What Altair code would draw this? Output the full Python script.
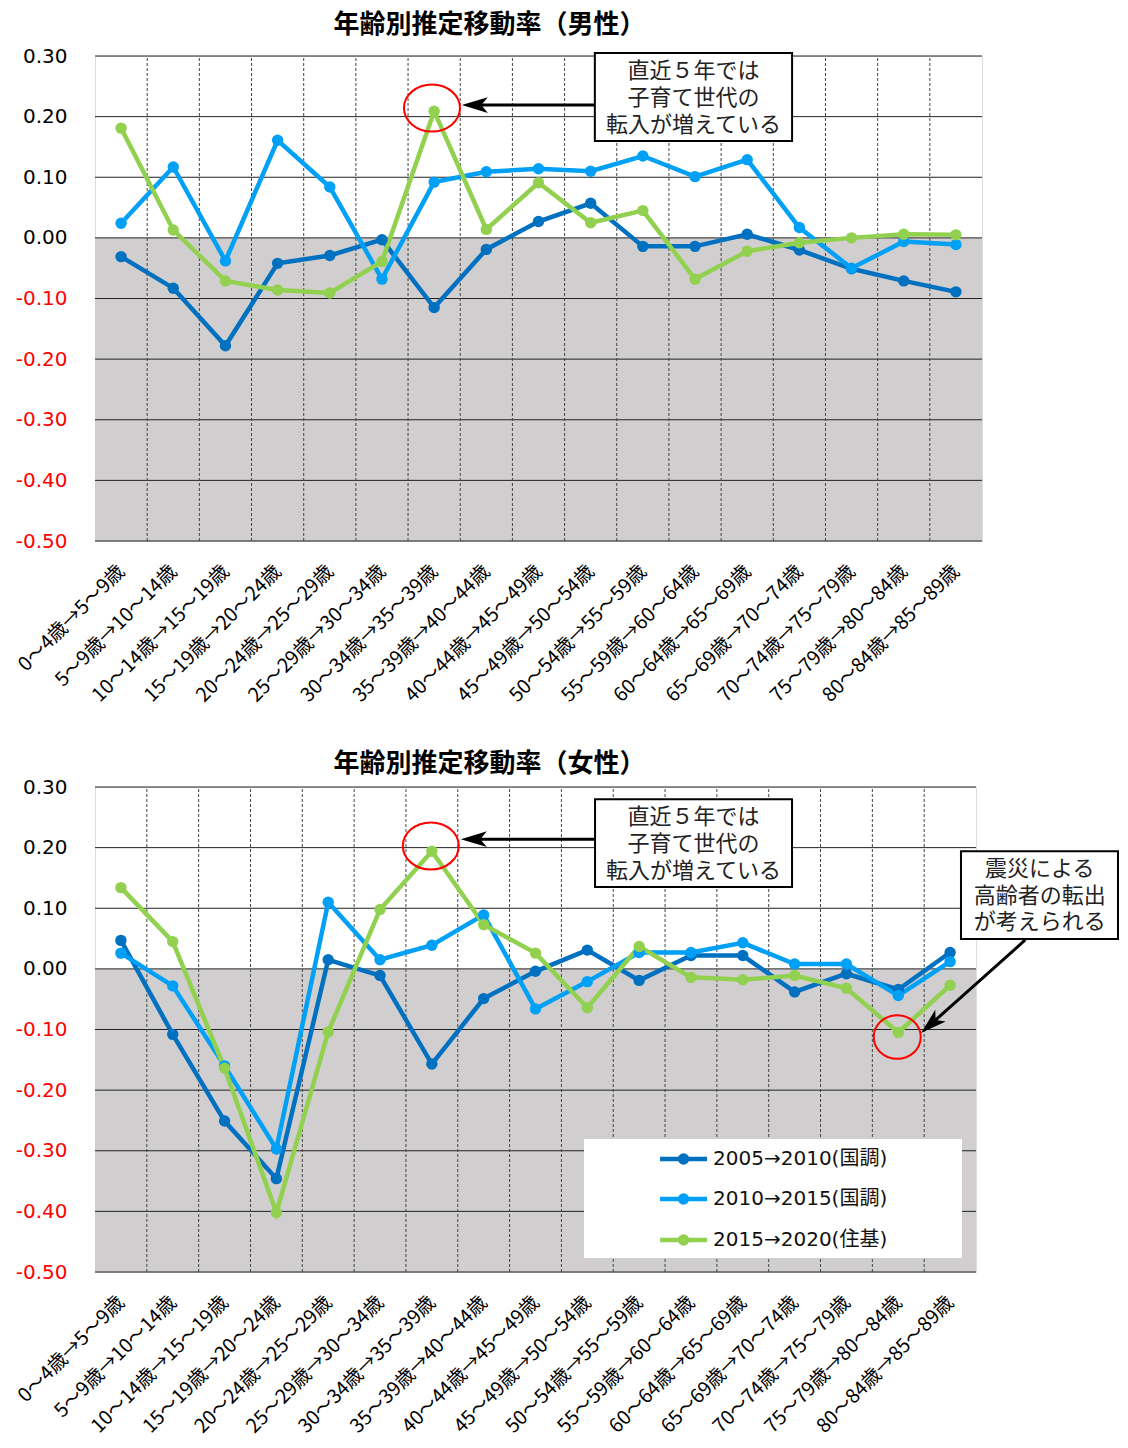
import altair as alt
import pandas as pd

# ---------------- data ----------------
categories = ["0～4歳→5～9歳", "5～9歳→10～14歳", "10～14歳→15～19歳", "15～19歳→20～24歳",
              "20～24歳→25～29歳", "25～29歳→30～34歳", "30～34歳→35～39歳", "35～39歳→40～44歳",
              "40～44歳→45～49歳", "45～49歳→50～54歳", "50～54歳→55～59歳", "55～59歳→60～64歳",
              "60～64歳→65～69歳", "65～69歳→70～74歳", "70～74歳→75～79歳", "75～79歳→80～84歳",
              "80～84歳→85～89歳"]
series_names = ["2005→2010(国調)", "2010→2015(国調)", "2015→2020(住基)"]
series_colors = ["#0070C0", "#00A0F6", "#92D050"]

male_2005_2010 = [-0.031, -0.083, -0.178, -0.042, -0.029, -0.003, -0.115, -0.019, 0.027,
                  0.057, -0.014, -0.014, 0.006, -0.020, -0.051, -0.071, -0.089]
male_2010_2015 = [0.024, 0.117, -0.038, 0.161, 0.084, -0.068, 0.092, 0.109, 0.114,
                  0.110, 0.135, 0.101, 0.129, 0.017, -0.050, -0.006, -0.011]
male_2015_2020 = [0.181, 0.013, -0.071, -0.086, -0.091, -0.039, 0.209, 0.014, 0.091,
                  0.025, 0.045, -0.068, -0.022, -0.008, 0.000, 0.006, 0.005]

female_2005_2010 = [0.047, -0.108, -0.251, -0.346, 0.015, -0.011, -0.157, -0.049, -0.004,
                    0.031, -0.019, 0.022, 0.022, -0.038, -0.008, -0.034, 0.027]
female_2010_2015 = [0.026, -0.028, -0.160, -0.297, 0.110, 0.015, 0.039, 0.089, -0.066,
                    -0.021, 0.027, 0.027, 0.043, 0.008, 0.008, -0.044, 0.012]
female_2015_2020 = [0.134, 0.045, -0.164, -0.402, -0.104, 0.098, 0.194, 0.073, 0.026,
                    -0.064, 0.037, -0.014, -0.018, -0.011, -0.032, -0.105, -0.027]

y_ticks = [-0.5, -0.4, -0.3, -0.2, -0.1, 0.0, 0.1, 0.2, 0.3]
x_dividers = [i + 0.5 for i in range(16)]

note_child = ["直近５年では", "子育て世代の", "転入が増えている"]
note_quake = ["震災による", "高齢者の転出", "が考えられる"]

# ---------------- styles / positions ----------------
LABEL_FONT = "Noto Sans CJK JP"
LEGEND_FONT = "DejaVu Sans, Noto Sans CJK JP"
CJK_FONT = "Noto Sans CJK JP"
GRAY = "#D0CECE"
ARROW_PATH = "M-1,0 L1,-0.6 L0.5,0 L1,0.6 Z"
ELLIPSE_TOP = "M1,0 A1,0.84 0 1,1 -1,0 A1,0.84 0 1,1 1,0 Z"
ELLIPSE_ROUND = "M1,0 A1,0.93 0 1,1 -1,0 A1,0.93 0 1,1 1,0 Z"

label_array = "[" + ",".join("'" + c + "'" for c in categories) + "]"

XDOM = [-0.5, 16.5]
YDOM = [-0.5, 0.3]

X_AXIS = alt.Axis(values=list(range(17)), labelExpr=label_array + "[datum.value]",
                  labelAngle=315, labelAlign="right", labelBaseline="middle",
                  labelFont=LABEL_FONT, labelFontSize=19.5, labelColor="#000",
                  labelPadding=27, ticks=False, domain=False, grid=False,
                  labelFlush=False, labelOverlap=False, title=None, labelLimit=400)
Y_AXIS = alt.Axis(values=y_ticks, grid=False, ticks=False, domain=False,
                  labelExpr="(datum.value < 0 ? '-' : '') + format(abs(datum.value), '.2f')",
                  labelPadding=28, labelFont="DejaVu Sans", labelFontSize=20,
                  labelColor={"condition": {"test": "datum.value < 0", "value": "#FF0000"},
                              "value": "#000000"},
                  labelFlush=False, labelOverlap=False, title=None)


def xq(field):
    return alt.X(field, type="quantitative",
                 scale=alt.Scale(domain=XDOM, nice=False, zero=False), axis=X_AXIS)


def yq(field):
    return alt.Y(field, type="quantitative",
                 scale=alt.Scale(domain=YDOM, nice=False, zero=False), axis=Y_AXIS)


def make_panel(title, s1, s2, s3, width, dx, title_offset, notes):
    rows = []
    for name, vals in zip(series_names, [s1, s2, s3]):
        for i, v in enumerate(vals):
            rows.append({"idx": i, "value": v, "series": name})
    df = pd.DataFrame(rows)

    color_scale = alt.Scale(domain=series_names, range=series_colors)

    bg = alt.Chart(pd.DataFrame({"x1": [XDOM[0]], "x2": [XDOM[1]], "y1": [0.0], "y2": [YDOM[0]]})).mark_rect(
        color=GRAY).encode(x=xq("x1"), x2="x2", y=yq("y1"), y2="y2")

    hgrid = alt.Chart(pd.DataFrame({"y": y_ticks, "x1": XDOM[0], "x2": XDOM[1]})).mark_rule(
        color="#222", strokeWidth=1).encode(y=yq("y"), x=xq("x1"), x2="x2")

    vgrid = alt.Chart(pd.DataFrame({"x": x_dividers, "y1": YDOM[0], "y2": YDOM[1]})).mark_rule(
        color="#444", strokeWidth=1, strokeDash=[3, 2]).encode(x=xq("x"), y=yq("y1"), y2="y2")

    layers = [bg, hgrid, vgrid]

    lines = alt.Chart(df).mark_line(strokeWidth=4.5).encode(
        x=xq("idx"), y=yq("value"),
        stroke=alt.Stroke("series:N", scale=color_scale, legend=None))
    points = alt.Chart(df).mark_circle(size=130, opacity=1).encode(
        x=xq("idx"), y=yq("value"),
        color=alt.Color("series:N", scale=color_scale, legend=None))
    layers += [lines, points]

    # legend (drawn as a small keyed table inside the plot)
    if "legend" in notes:
        lg = notes["legend"]
        layers.append(alt.Chart(pd.DataFrame({"x1": [lg["box"][0]], "x2": [lg["box"][1]],
                                              "y1": [lg["box"][2]], "y2": [lg["box"][3]]})).mark_rect(
            color="white").encode(x=xq("x1"), x2="x2", y=yq("y1"), y2="y2"))
        ldf = pd.DataFrame({"series": series_names, "y": lg["rows"],
                            "x1": lg["sym"][0], "x2": lg["sym"][1], "xc": lg["sym"][2],
                            "xt": lg["text_x"]})
        layers.append(alt.Chart(ldf).mark_rule(strokeWidth=4.5).encode(
            x=xq("x1"), x2="x2", y=yq("y"),
            stroke=alt.Stroke("series:N", scale=color_scale, legend=None)))
        layers.append(alt.Chart(ldf).mark_circle(size=130, opacity=1).encode(
            x=xq("xc"), y=yq("y"),
            color=alt.Color("series:N", scale=color_scale, legend=None)))
        layers.append(alt.Chart(ldf).mark_text(
            align="left", baseline="middle", font=LEGEND_FONT, fontSize=20, color="#111").encode(
            x=xq("xt"), y=yq("y"), text="series:N"))

    # red circles
    for (cx, cy, size, shape) in notes["circles"]:
        layers.append(alt.Chart(pd.DataFrame({"x": [cx], "y": [cy]})).mark_point(
            shape=shape, size=size, filled=False, color="#FF0000", strokeWidth=2, opacity=1).encode(
            x=xq("x"), y=yq("y")))

    # boxes with text
    for (bx1, bx2, by1, by2, tx, tys, lines_txt) in notes["boxes"]:
        layers.append(alt.Chart(pd.DataFrame({"x1": [bx1], "x2": [bx2], "y1": [by1], "y2": [by2]})).mark_rect(
            fill="white", stroke="#000", strokeWidth=2).encode(x=xq("x1"), x2="x2", y=yq("y1"), y2="y2"))
        layers.append(alt.Chart(pd.DataFrame({"x": [tx] * len(tys), "y": tys, "t": lines_txt})).mark_text(
            font=CJK_FONT, fontSize=22, color="#222", align="center", baseline="middle").encode(
            x=xq("x"), y=yq("y"), text="t:N"))

    # arrows
    for (ax1, ay1, ax2, ay2, ang) in notes["arrows"]:
        layers.append(alt.Chart(pd.DataFrame({"x1": [ax1], "x2": [ax2], "y1": [ay1], "y2": [ay2]})).mark_rule(
            color="#000", strokeWidth=3).encode(x=xq("x1"), x2="x2", y=yq("y1"), y2="y2"))
        layers.append(alt.Chart(pd.DataFrame({"x": [ax2], "y": [ay2]})).mark_point(
            shape=ARROW_PATH, size=676, filled=True, color="#000", opacity=1, angle=ang, strokeWidth=0).encode(
            x=xq("x"), y=yq("y")))

    return alt.layer(*layers).properties(
        width=width, height=485,
        title=alt.TitleParams(title, font=CJK_FONT, fontSize=26, fontWeight="bold", color="#000",
                              anchor="middle", frame="group", dx=dx, offset=title_offset)
    )


top_notes = {
    "circles": [(5.958, 0.2142, 3136, ELLIPSE_TOP)],
    "boxes": [(9.08, 12.86, 0.305, 0.160, 10.97, [0.275, 0.231, 0.186], note_child)],
    "arrows": [(9.08, 0.219, 6.78, 0.219, 0)],
}
bottom_notes = {
    "circles": [(5.98, 0.2027, 3136, ELLIPSE_TOP), (14.98, -0.1124, 2209, ELLIPSE_ROUND)],
    "boxes": [(9.149, 12.95, 0.280, 0.135, 11.05, [0.2505, 0.206, 0.161], note_child),
              (16.21, 19.24, 0.194, 0.0493, 17.73, [0.1647, 0.12, 0.0777], note_quake)],
    "arrows": [(9.149, 0.214, 6.81, 0.214, 0), (17.45, 0.0477, 15.627, -0.0914, 318.2)],
    "legend": {"box": (8.936, 16.23, -0.2806, -0.4769),
               "rows": [-0.3136, -0.3796, -0.4472],
               "sym": (10.403, 11.31, 10.857),
               "text_x": 11.426},
}

top = make_panel("年齢別推定移動率（男性）", male_2005_2010, male_2010_2015, male_2015_2020,
                 887, -49, 8, top_notes)
bottom = make_panel("年齢別推定移動率（女性）", female_2005_2010, female_2010_2015, female_2015_2020,
                    881, -46, 0, bottom_notes)

chart = alt.vconcat(top, bottom, spacing=44).properties(
    padding={"left": 5, "top": 3, "right": 0, "bottom": 0}
).configure_view(stroke="#000", strokeWidth=1).configure(background="white")

chart.save("out.html", embed_options={"renderer": "svg", "actions": False})
